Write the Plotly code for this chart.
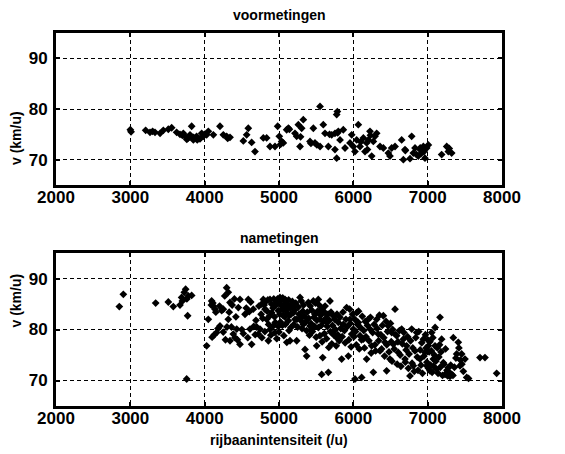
import plotly.graph_objects as go
from plotly.subplots import make_subplots

# voormetingen (intensiteit per uur, snelheid km/u)
vm_x = [3000, 3010, 3206, 3265, 3332, 3400, 3444, 3511, 3556, 3623,
        3668, 3713, 3735, 3780, 3803, 3825, 3848, 3892, 3937, 3960,
        3982, 4027, 4049, 4117, 4206, 4251, 4296, 4341, 4520, 4565,
        4587, 4632, 4677, 4789, 4834, 4879, 4946, 4982, 5004, 5036,
        5058, 5103, 5126, 5215, 5238, 5260, 5305, 5327, 5283, 5417,
        5462, 5484, 5552, 5552, 5596, 5619, 5664, 5709, 5753, 5776,
        5785, 5776, 5753, 5798, 5821, 5865, 5888, 5955, 5978, 6000,
        6022, 6045, 6067, 6090, 6135, 6157, 6179, 6202, 6224, 6247,
        6269, 6291, 6314, 6359, 6404, 6471, 6493, 6516, 6561, 6650,
        6673, 6695, 6762, 6785, 6807, 6830, 6874, 6897, 6919, 6942,
        6964, 6987, 7009, 7188, 7256, 7278, 7323, 3300, 3700, 3760,
        3850, 3900, 4000, 4310, 5020, 5140, 5290, 5430, 5510, 5680,
        5790, 6100, 6190, 6230, 6700, 6850, 6900, 6950, 7290]
vm_y = [75.9, 75.5, 75.8, 75.4, 75.4, 75.2, 75.8, 76.0, 76.3, 75.4,
        75.0, 75.2, 74.6, 74.3, 74.9, 76.6, 73.9, 74.6, 74.1, 75.2,
        74.6, 74.9, 75.6, 74.9, 76.6, 74.9, 74.6, 74.4, 73.7, 74.9,
        76.2, 73.4, 71.6, 74.3, 74.3, 72.6, 72.6, 76.6, 74.6, 73.6,
        73.3, 75.9, 76.2, 75.2, 74.6, 76.9, 76.2, 77.9, 72.6, 73.6,
        76.2, 73.3, 72.6, 80.5, 76.9, 75.2, 72.6, 74.9, 75.2, 78.9,
        79.5, 70.3, 72.0, 75.6, 73.9, 75.9, 72.3, 73.3, 74.9, 72.6,
        71.6, 73.9, 76.9, 72.6, 74.3, 71.6, 73.3, 73.9, 75.6, 70.7,
        73.6, 74.6, 75.2, 72.6, 72.3, 71.3, 70.7, 72.3, 72.6, 73.9,
        70.0, 72.0, 70.2, 74.6, 71.3, 72.3, 70.7, 72.0, 71.3, 72.6,
        70.3, 72.3, 72.9, 71.0, 72.6, 71.6, 71.3, 75.6, 74.8, 74.0,
        74.4, 73.9, 75.0, 74.2, 73.0, 76.0, 74.5, 73.2, 72.9, 75.0,
        75.3, 73.5, 72.0, 74.8, 71.8, 71.0, 72.3, 71.6, 72.2]

# nametingen
nm_x = [2852, 2906, 3341, 3511, 3578, 3668, 3690, 3726, 3744, 3780,
        3825, 3771, 3758, 3700, 3760, 4027, 4049, 4094, 4117, 4139,
        4161, 4206, 4229, 4251, 4296, 4318, 4341, 4318, 4341, 4385,
        4408, 4431, 4453, 4475, 4475, 4543, 4587, 4610, 4632, 4654,
        4100, 4130, 4180, 4250, 4280, 4300, 4370, 4400, 4420, 4500,
        4560, 4600, 4680, 4700, 4722, 4744, 4767, 4789, 4812, 4834,
        4857, 4879, 4901, 4924, 4946, 4969, 4991, 5013, 5036, 5058,
        5081, 5103, 5126, 5148, 5170, 5193, 5215, 5238, 5283, 5305,
        5327, 5350, 5372, 5395, 5417, 5439, 5462, 5484, 5507, 5529,
        5552, 5574, 5588, 5574, 5619, 5641, 5664, 5686, 5709, 5731,
        5776, 5798, 5843, 5865, 5910, 5933, 5955, 5978, 6000, 6022,
        6045, 6067, 6090, 6112, 6135, 6179, 6202, 6224, 6247, 6269,
        6314, 6336, 6359, 6404, 6426, 6448, 6471, 6493, 6516, 6538,
        6561, 6583, 6605, 6650, 6673, 6695, 6717, 6762, 6785, 6807,
        6830, 6852, 6897, 6942, 6964, 6987, 7009, 7031, 7054, 7076,
        7099, 7121, 7166, 7188, 7211, 7233, 7256, 7278, 7323, 7345,
        7390, 7412, 7435, 7457, 7502, 7525, 7704, 7771, 7928, 7440,
        4760, 4780, 4800, 4820, 4840, 4860, 4880, 4900, 4920, 4940,
        4960, 4980, 5000, 5010, 5020, 5030, 5040, 5050, 5060, 5070,
        5080, 5090, 5100, 5110, 5120, 5130, 5140, 5150, 5160, 5180,
        5190, 5200, 5210, 5225, 5240, 5250, 5260, 5270, 5290, 5300,
        5310, 5320, 5330, 5340, 5360, 5370, 5380, 5400, 5410, 5420,
        5430, 5440, 5450, 5470, 5480, 5490, 5500, 5510, 5520, 5530,
        5540, 5550, 5560, 5570, 5580, 5590, 5600, 5610, 5620, 5630,
        5640, 5650, 5660, 5670, 5680, 5690, 5700, 5710, 5720, 5740,
        5750, 5760, 5770, 5780, 5790, 5810, 5820, 5830, 5850, 5860,
        5880, 5890, 5900, 5920, 5940, 5950, 5960, 5970, 5990, 6010,
        6020, 6030, 6040, 6055, 6070, 6080, 6095, 6110, 6120, 6140,
        6150, 6160, 6170, 6190, 6210, 6230, 6240, 6260, 6280, 6290,
        6300, 6320, 6340, 6350, 6370, 6380, 6390, 6410, 6420, 6440,
        6450, 6460, 6480, 6500, 6510, 6520, 6530, 6550, 6570, 6590,
        6600, 6620, 6630, 6640, 6660, 6680, 6700, 6710, 6730, 6740,
        6750, 6770, 6790, 6800, 6820, 6840, 6860, 6870, 6880, 6900,
        6910, 6920, 6930, 6950, 6970, 6980, 6990, 7000, 7010, 7020,
        7030, 7040, 7050, 7060, 7070, 7080, 7090, 7100, 7110, 7130,
        7140, 7150, 7160, 7170, 7180, 7200, 7220, 7240, 7260, 7270,
        7290, 7300, 7310, 7340, 7360, 7380, 7420, 7460, 7480, 7550,
        4090, 4110, 4150, 4200, 4270, 4330, 4360, 4440, 4520, 4580,
        4620, 4660, 4690, 4730, 4770, 4810, 4850, 4870, 4890, 4930,
        4950, 4970, 4990, 5000, 5045, 5065, 5085, 5105, 5135, 5160]
nm_y = [84.5, 86.9, 85.2, 85.4, 84.5, 84.8, 86.3, 87.3, 87.9, 86.6,
        86.7, 82.7, 70.3, 85.6, 86.0, 76.8, 82.0, 85.6, 84.6, 84.0,
        79.4, 80.7, 83.7, 84.0, 88.2, 87.3, 85.3, 82.0, 77.8, 79.1,
        78.4, 80.1, 84.3, 85.9, 77.1, 83.0, 85.9, 80.1, 77.1, 84.0,
        78.5, 79.0, 80.2, 79.5, 78.0, 80.5, 84.8, 86.0, 82.5, 80.0,
        84.2, 83.5, 79.0, 80.5, 79.1, 80.1, 85.0, 85.9, 84.0, 82.0,
        77.8, 85.9, 83.3, 80.7, 79.4, 85.3, 83.7, 86.3, 84.6, 82.7,
        85.9, 84.0, 81.7, 77.8, 85.0, 83.3, 82.0, 77.8, 86.3, 82.4,
        81.0, 76.1, 74.8, 85.3, 80.7, 80.1, 85.6, 83.0, 76.8, 85.9,
        82.0, 84.0, 74.5, 71.2, 83.3, 81.4, 71.6, 85.6, 79.4, 82.7,
        78.4, 81.4, 74.2, 81.0, 84.3, 74.8, 82.0, 79.1, 80.1, 70.3,
        83.3, 81.4, 78.8, 70.6, 78.1, 74.2, 82.0, 80.1, 76.8, 71.6,
        82.0, 79.1, 75.8, 82.7, 77.5, 71.9, 80.7, 74.2, 79.4, 77.1,
        84.0, 78.8, 75.5, 80.1, 78.1, 74.2, 76.8, 70.9, 80.1, 72.9,
        75.8, 79.4, 74.2, 78.1, 75.5, 72.9, 76.8, 71.9, 79.4, 74.2,
        76.8, 72.2, 82.4, 78.1, 73.5, 71.2, 71.2, 72.5, 71.2, 78.4,
        75.2, 77.5, 72.9, 75.2, 74.2, 70.6, 74.5, 74.5, 71.4, 74.0,
        83.0, 82.2, 84.8, 85.5, 83.6, 81.0, 80.0, 85.0, 84.2, 82.5,
        84.8, 86.0, 85.2, 83.0, 81.5, 85.8, 84.0, 86.2, 83.8, 85.0,
        82.5, 84.6, 85.6, 83.2, 84.8, 85.8, 82.8, 84.2, 83.0, 85.5,
        84.5, 81.0, 83.8, 85.2, 82.0, 80.5, 84.4, 83.0, 81.8, 85.6,
        80.2, 83.6, 84.8, 82.6, 81.5, 79.8, 83.4, 82.2, 78.9, 84.6,
        81.2, 83.8, 79.6, 82.4, 80.6, 85.2, 78.5, 81.8, 83.6, 80.4,
        84.8, 78.8, 82.8, 80.8, 77.6, 83.5, 81.6, 79.2, 84.6, 82.2,
        78.2, 80.6, 83.0, 76.5, 81.8, 79.6, 83.4, 77.2, 80.8, 78.9,
        82.0, 80.0, 76.8, 83.0, 79.0, 77.8, 82.4, 80.2, 78.6, 83.4,
        79.8, 77.4, 82.0, 80.6, 78.0, 84.0, 81.2, 76.6, 83.0, 78.6,
        82.0, 79.6, 77.0, 81.0, 83.6, 76.2, 80.4, 78.0, 82.6, 79.8,
        76.4, 81.6, 78.6, 80.8, 77.8, 82.4, 75.4, 79.4, 81.0, 77.0,
        75.8, 80.2, 77.8, 82.8, 79.0, 76.2, 80.8, 78.4, 74.8, 81.6,
        77.0, 79.6, 75.6, 81.2, 77.6, 73.8, 80.0, 76.2, 79.0, 73.2,
        77.6, 79.8, 75.0, 72.8, 77.2, 79.4, 73.6, 76.0, 78.6, 72.4,
        75.2, 77.8, 73.4, 76.4, 71.8, 78.4, 74.6, 72.0, 79.6, 76.0,
        73.0, 77.4, 71.4, 74.8, 79.0, 76.4, 73.6, 78.0, 72.4, 75.6,
        77.6, 73.0, 75.8, 71.6, 78.4, 72.8, 75.0, 80.4, 73.8, 76.4,
        71.4, 74.6, 77.0, 72.6, 75.6, 71.0, 73.2, 76.2, 72.0, 70.9,
        71.6, 70.8, 73.0, 71.0, 72.6, 74.4, 76.4, 73.2, 71.8, 70.4,
        84.8, 85.2, 83.4, 84.6, 86.6, 83.4, 80.5, 78.0, 79.2, 78.4,
        85.4, 80.6, 81.8, 84.6, 78.4, 79.6, 85.8, 82.6, 78.9, 86.0,
        81.4, 78.2, 80.6, 79.5, 80.8, 78.8, 81.0, 77.5, 79.8, 80.4]

x_ticks = [2000, 3000, 4000, 5000, 6000, 7000, 8000]
y_ticks = [70, 80, 90]

fig = make_subplots(rows=2, cols=1)

marker = dict(symbol="diamond", size=6, color="black", line=dict(width=0))
fig.add_trace(go.Scatter(x=vm_x, y=vm_y, mode="markers", marker=marker), row=1, col=1)
fig.add_trace(go.Scatter(x=nm_x, y=nm_y, mode="markers", marker=marker), row=2, col=1)

tickfont = dict(family="Liberation Sans", size=17, color="black", weight="bold")
titlefont = dict(family="Liberation Sans", size=14, color="black", weight="bold")

ax_common = dict(showline=True, linecolor="black", linewidth=3, mirror="ticks",
                 ticks="inside", ticklen=4, tickcolor="black", tickwidth=2,
                 showgrid=True, gridcolor="black", griddash="4px,3px", gridwidth=1,
                 zeroline=False, tickfont=tickfont, automargin=False)

fig.update_xaxes(range=[2000, 8000], tickvals=x_ticks, ticklabelstandoff=-5, **ax_common)
fig.update_yaxes(range=[65, 95], tickvals=y_ticks, ticklabelstandoff=2, **ax_common)

# de pagina zet de figuur 8px naar rechts/onder, daarom kleinere marges links/boven
fig.update_layout(
    width=565, height=454,
    margin=dict(l=48, r=71, t=25, b=56),
    plot_bgcolor="white", paper_bgcolor="white",
    showlegend=False,
    xaxis=dict(domain=[0, 1]),
    yaxis=dict(domain=[0.5925, 1.0]),
    xaxis2=dict(domain=[0, 1]),
    yaxis2=dict(domain=[0, 0.41]),
)

for y_mid in [0.7962, 0.205]:
    fig.add_annotation(text="v (km/u)", xref="paper", yref="paper", x=0, y=y_mid,
                       xanchor="center", xshift=-40, textangle=-90,
                       showarrow=False, font=titlefont)

fig.add_annotation(text="rijbaanintensiteit (/u)", xref="paper", yref="paper", x=0.5, y=0,
                   yanchor="middle", yshift=-34, showarrow=False, font=titlefont)
fig.add_annotation(text="voormetingen", xref="paper", yref="paper", x=0.5, y=1.0,
                   yanchor="middle", yshift=18, showarrow=False, font=titlefont)
fig.add_annotation(text="nametingen", xref="paper", yref="paper", x=0.5, y=0.41,
                   yanchor="middle", yshift=15, showarrow=False, font=titlefont)

fig.write_html("out.html")
